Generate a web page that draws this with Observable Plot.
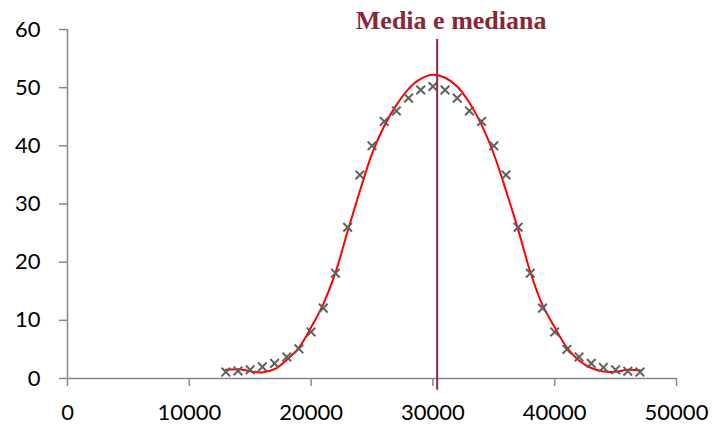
<!DOCTYPE html>
<html>
<head>
<meta charset="utf-8">
<script src="https://cdn.jsdelivr.net/npm/d3@7"></script>
<script src="https://cdn.jsdelivr.net/npm/@observablehq/plot@0.6"></script>
<style>
  html, body { margin: 0; padding: 0; background: #fff; }
  #chart svg { display: block; }
</style>
</head>
<body>
<div id="chart"></div>
<script>
// Observed points (x marks)
const xValues = [13000,14000,15000,16000,17000,18000,19000,20000,21000,22000,23000,24000,25000,26000,27000,28000,29000,30000,31000,32000,33000,34000,35000,36000,37000,38000,39000,40000,41000,42000,43000,44000,45000,46000,47000];
const observed = [1.1,1.3,1.5,2.0,2.6,3.7,5.1,8.0,12.1,18.1,26,35,40,44.2,46,48.2,49.6,50.2,49.6,48.2,46,44.2,40,35,26,18.1,12.1,8.0,5.0,3.7,2.6,1.9,1.5,1.25,1.1];
// Trend line (red curve) read at the same x positions
const trend = [1.5,1.6,1.25,1.05,1.6,3.2,5.3,8.8,12.8,18.2,25.3,32.2,38.6,43.4,47,49.8,51.5,52.2,51.7,50.2,47.4,43.6,38.6,32.3,25.6,18.3,12.6,8.8,5.3,3.1,1.8,1.2,1.15,1.5,1.4];
// Mean / median marker
const meanValue = 30350;
const meanLineTop = 58.3;
const meanLineBottom = -2;
const title = "Media e mediana";
const xTicks = [0,10000,20000,30000,40000,50000];
const yTicks = [0,10,20,30,40,50,60];

const points = xValues.map((x, i) => ({x, y: observed[i]}));
const curve = xValues.map((x, i) => ({x, y: trend[i]}));

const axisColor = "#898989";

const chart = Plot.plot({
  width: 713,
  height: 425,
  marginLeft: 67,
  marginRight: 37,
  marginTop: 29,
  marginBottom: 47,
  style: {fontFamily: "Lato", fontSize: "22px", background: "#fff", color: "#000"},
  x: {domain: [0, 50000]},
  y: {domain: [0, 60]},
  marks: [
    Plot.axisY({ticks: yTicks, tickSize: 8, tickPadding: 19, stroke: axisColor, strokeWidth: 1.5, fill: "#000", fontSize: 22, label: null}),
    Plot.axisX({ticks: xTicks, tickSize: 8, tickPadding: 18, stroke: axisColor, strokeWidth: 1.5, fill: "#000", fontSize: 22, label: null, tickFormat: d => String(d)}),
    Plot.ruleX([0], {stroke: axisColor, strokeWidth: 1.5}),
    Plot.ruleY([0], {stroke: axisColor, strokeWidth: 1.5}),
    Plot.line(curve, {x: "x", y: "y", stroke: "#ff0000", strokeWidth: 2, curve: "catmull-rom"}),
    Plot.dot(points, {x: "x", y: "y", symbol: "times", r: 4, stroke: "#606060", strokeWidth: 2}),
    Plot.ruleX([meanValue], {y1: meanLineBottom, y2: meanLineTop, stroke: "#8b2a3a", strokeWidth: 2}),
    Plot.text([title], {x: meanValue, y: 60, dx: 14, dy: -9.3, text: d => d, fontFamily: "Liberation Serif", fontWeight: "bold", fontSize: 26, fill: "#8b2635", textAnchor: "middle"})
  ]
});
document.getElementById("chart").appendChild(chart);
</script>
</body>
</html>
